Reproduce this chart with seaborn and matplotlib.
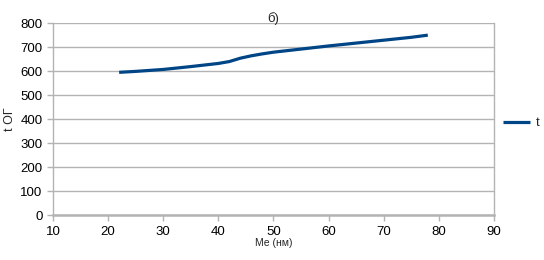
import pandas as pd
import matplotlib
matplotlib.use("Agg")
import matplotlib.pyplot as plt
import seaborn as sns

# values
me_nm = [22, 25, 30, 35, 40, 42, 44, 46, 48, 50, 55, 60, 65, 70, 75, 78]
t_og = [596, 600, 608, 620, 633, 641, 655, 665, 673, 680, 693, 706, 718, 730, 742, 751]
x_ticks = [10, 20, 30, 40, 50, 60, 70, 80, 90]
y_ticks = [0, 100, 200, 300, 400, 500, 600, 700, 800]

sns.set_style("white")
plt.rcParams["font.family"] = ["Liberation Sans", "DejaVu Sans"]

data = pd.DataFrame({"Me": me_nm, "t": t_og})

fig = plt.figure(figsize=(5.44, 2.6), dpi=100)
ax = fig.add_axes([0.0974, 0.172, 0.8106, 0.738])

grid_col = "#b3b3b3"
sns.lineplot(data=data, x="Me", y="t", ax=ax, color="#004586", linewidth=2.3,
             label="t", solid_capstyle="butt")

ax.set_xlim(10, 90)
ax.set_ylim(0, 800)
ax.set_xticks(x_ticks)
ax.set_yticks(y_ticks)
ax.yaxis.grid(True, color=grid_col, linewidth=1)
ax.xaxis.grid(False)
for side in ["left", "right", "bottom"]:
    ax.spines[side].set_color(grid_col)
    ax.spines[side].set_linewidth(1)
ax.spines["bottom"].set_linewidth(1.8)
ax.spines["top"].set_visible(False)
ax.tick_params(axis="both", colors=grid_col, length=4, width=1, labelsize=9.5,
               labelcolor="black", direction="out", bottom=True, left=True)

ax.set_title("б)", fontsize=9.5, pad=1)
ax.set_xlabel("Me (нм)", fontsize=7.5, labelpad=0)
ax.set_ylabel("t ОГ", fontsize=9, labelpad=3)

ax.legend(loc="center left", bbox_to_anchor=(1.02, 0.48), frameon=False,
          fontsize=9.5, handlelength=2.1, handletextpad=0.4,
          borderaxespad=0, borderpad=0)

fig.savefig("out.png", dpi=100)
